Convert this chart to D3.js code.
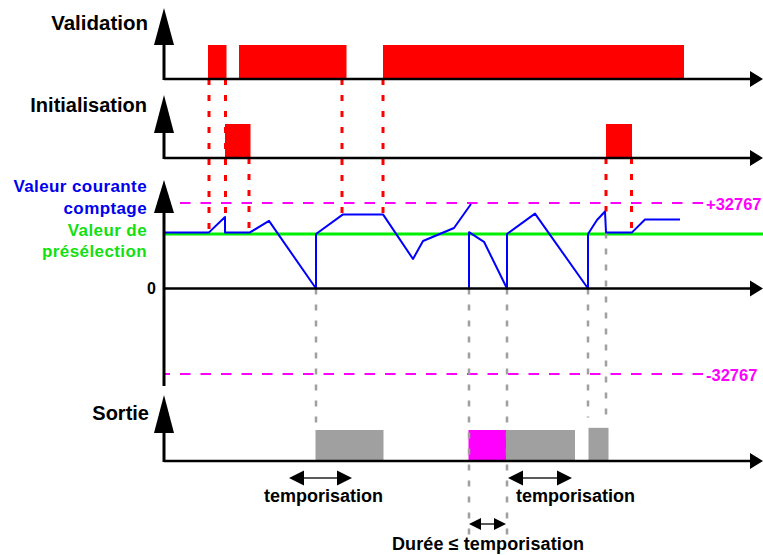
<!DOCTYPE html>
<html>
<head>
<meta charset="utf-8">
<script src="https://cdn.jsdelivr.net/npm/d3@7"></script>
<style>
    body { margin: 0; background: #fff; }
    #chart { width: 763px; height: 555px; }
    text { font-family: "Liberation Sans", Arial, sans-serif; font-weight: bold; }
</style>
</head>
<body>
<div id="chart"></div>
<script>
// time runs 0..600 units along every lane
const validationPulses = [[44, 62.5], [75, 182.5], [219, 520]];
const initPulses = [[61, 86.5], [442, 468]];

// output pulses: "short" = pulse shorter than the timer
const outputStarts = [151.5, 304.5, 342, 424.5];
const outputEnds = [219.5, 342, 411, 444.5];
const outputLevels = [1, 1, 1, 1.07];
const outputKinds = ["normal", "short", "normal", "normal"];

// current counter value, null = break in the trace
const counterTimes = [0, 45, 61, 61, 86, 105, 152, 152, 179, 219, 249, 259, 290, 307, null,
    305, 305, 320, 343, 343, 371, 424, 424, 433, 441, 442, 468, 481, 516];
const counterValues = [21500, 21500, 27400, 21500, 21500, 25900, 0, 20900, 28400, 28400, 11300, 18200, 23200, 32400, null,
    0, 21600, 17900, 0, 20900, 28700, 0, 20900, 26250, 29500, 21500, 21500, 26440, 26440];

const presetValue = 20900;
const counterLimits = [32767, -32767];
const limitLabels = ["+32767", "-32767"];

// annotation spans
const timerSpans = [[125, 188], [344, 408]];
const shortSpans = [[305, 342]];

// dotted guides: time, start [lane, value], end [lane, value]
const redGuides = [
    {t: 45, from: ["validation", 0], to: ["counter", 21500]},
    {t: 61.5, from: ["validation", 0], to: ["counter", 27400]},
    {t: 85, from: ["init", 0], to: ["counter", 21500]},
    {t: 178, from: ["validation", 0], to: ["counter", 28400]},
    {t: 219, from: ["validation", 0], to: ["counter", 28400]},
    {t: 442, from: ["init", 0], to: ["counter", 29500]},
    {t: 467.5, from: ["init", 0], to: ["counter", 21500]}
];
const grayGuides = [
    {t: 152, from: ["counter", 0], to: ["output", 1]},
    {t: 305, from: ["counter", 0], to: ["notes", 0]},
    {t: 343, from: ["counter", 0], to: ["notes", 0]},
    {t: 424, from: ["counter", 0], to: ["output", 1.4]},
    {t: 442, from: ["counter", 21500], to: ["output", 1.4]}
];


class TimingDiagram {
    constructor(parentElement) {
        this.parentElement = parentElement;
        this.initVis();
    }

    initVis() {
        let vis = this;

        vis.width = 763;
        vis.height = 555;
        vis.axisX = 164;

        vis.svg = d3.select("#" + vis.parentElement).append("svg")
            .attr("width", vis.width)
            .attr("height", vis.height);

        // shared time scale
        vis.x = d3.scaleLinear().domain([0, 600]).range([vis.axisX, vis.axisX + 600]);

        // one vertical scale per lane
        vis.y = {
            validation: d3.scaleLinear().domain([0, 1]).range([79, 45]),
            init: d3.scaleLinear().domain([0, 1]).range([158, 124]),
            counter: d3.scaleLinear().domain([-32767, 32767]).range([374, 203]),
            output: d3.scaleLinear().domain([0, 1]).range([461, 430]),
            notes: d3.scaleLinear().domain([0, 1]).range([537, 478])
        };

        vis.wrangleData();
    }

    wrangleData() {
        let vis = this;

        vis.counterData = counterTimes.map((t, i) => ({t: t, v: counterValues[i]}));
        vis.outputData = outputStarts.map((s, i) => ({
            start: s, end: outputEnds[i], level: outputLevels[i], kind: outputKinds[i]
        }));

        vis.updateVis();
    }

    upArrow(g, x, tip, base, half) {
        g.append("path")
            .attr("d", `M${x},${tip}L${x + half},${base}L${x - half},${base}Z`)
            .attr("fill", "#000");
    }

    rightArrow(g, tip, y, len, half) {
        g.append("path")
            .attr("d", `M${tip},${y}L${tip - len},${y - half}L${tip - len},${y + half}Z`)
            .attr("fill", "#000");
    }

    span(g, x0, x1, y, len, half) {
        let vis = this;
        g.append("line")
            .attr("x1", x0 + len - 1).attr("x2", x1 - len + 1)
            .attr("y1", y).attr("y2", y)
            .attr("stroke", "#222").attr("stroke-width", 1.5);
        vis.rightArrow(g, x1, y, len, half);
        g.append("path")
            .attr("d", `M${x0},${y}L${x0 + len},${y - half}L${x0 + len},${y + half}Z`)
            .attr("fill", "#000");
    }

    updateVis() {
        let vis = this;
        let x = vis.x, y = vis.y;

        // lane titles
        let labels = vis.svg.append("g").attr("text-anchor", "end");
        labels.append("text").attr("x", 148).attr("y", 30).attr("font-size", 20.5).text("Validation");
        labels.append("text").attr("x", 147).attr("y", 112).attr("font-size", 20).text("Initialisation");
        labels.append("text").attr("x", 149).attr("y", 420).attr("font-size", 20).text("Sortie");
        labels.selectAll(".blue")
            .data(["Valeur courante", "comptage"])
            .enter().append("text")
            .attr("x", 147).attr("y", (d, i) => 192 + i * 22)
            .attr("font-size", 17).attr("letter-spacing", 0.4)
            .attr("fill", "#0000ee").text(d => d);
        labels.selectAll(".green")
            .data(["Valeur de", "présélection"])
            .enter().append("text")
            .attr("x", 147).attr("y", (d, i) => 236 + i * 21)
            .attr("font-size", 17).attr("letter-spacing", 0.4)
            .attr("fill", "#11e011").text(d => d);
        labels.append("text").attr("x", 156).attr("y", 294).attr("font-size", 16).text("0");

        // pulses
        vis.svg.append("g").selectAll("rect")
            .data(validationPulses)
            .enter().append("rect")
            .attr("x", d => x(d[0]))
            .attr("width", d => x(d[1]) - x(d[0]))
            .attr("y", y.validation(1))
            .attr("height", y.validation(0) - y.validation(1))
            .attr("fill", "#ff0000");

        vis.svg.append("g").selectAll("rect")
            .data(initPulses)
            .enter().append("rect")
            .attr("x", d => x(d[0]))
            .attr("width", d => x(d[1]) - x(d[0]))
            .attr("y", y.init(1))
            .attr("height", y.init(0) - y.init(1))
            .attr("fill", "#ff0000");

        vis.svg.append("g").selectAll("rect")
            .data(vis.outputData)
            .enter().append("rect")
            .attr("x", d => x(d.start))
            .attr("width", d => x(d.end) - x(d.start))
            .attr("y", d => y.output(d.level))
            .attr("height", d => y.output(0) - y.output(d.level))
            .attr("fill", d => d.kind === "short" ? "#ff00ff" : "#a0a0a0");

        // counter limits
        let limits = vis.svg.append("g");
        limits.selectAll("line")
            .data(counterLimits)
            .enter().append("line")
            .attr("x1", (d, i) => i === 0 ? 180 : x(0))
            .attr("x2", x(541))
            .attr("y1", d => y.counter(d))
            .attr("y2", d => y.counter(d))
            .attr("stroke", "#ff00ff")
            .attr("stroke-width", 2)
            .attr("stroke-dasharray", "10.5,10")
            .attr("stroke-dashoffset", (d, i) => i === 0 ? 0 : 4.5);
        limits.selectAll("text")
            .data(counterLimits)
            .enter().append("text")
            .attr("x", x(542))
            .attr("y", d => y.counter(d) + 7)
            .attr("font-size", 16.5)
            .attr("fill", "#ff00ff")
            .text((d, i) => limitLabels[i]);

        // preset
        vis.svg.append("line")
            .attr("x1", x(0)).attr("x2", vis.width)
            .attr("y1", y.counter(presetValue)).attr("y2", y.counter(presetValue))
            .attr("stroke", "#00ee00").attr("stroke-width", 3);

        // guides
        let guide = (sel, color, width) => sel
            .attr("x1", d => x(d.t)).attr("x2", d => x(d.t))
            .attr("y1", d => y[d.from[0]](d.from[1]))
            .attr("y2", d => y[d.to[0]](d.to[1]))
            .attr("stroke", color)
            .attr("stroke-width", width)
            .attr("stroke-dasharray", "6,10");

        vis.svg.append("g").selectAll("line")
            .data(grayGuides)
            .enter().append("line")
            .call(guide, "#a0a0a0", 2.5);
        vis.svg.append("g").selectAll("line")
            .data(redGuides)
            .enter().append("line")
            .call(guide, "#ff0000", 3);

        // current value trace
        let line = d3.line()
            .defined(d => d.v !== null)
            .x(d => x(d.t))
            .y(d => y.counter(d.v));
        vis.svg.append("path")
            .datum(vis.counterData)
            .attr("d", line)
            .attr("fill", "none")
            .attr("stroke", "#0000ff")
            .attr("stroke-width", 2)
            .attr("stroke-linejoin", "round");

        // axes
        let axes = vis.svg.append("g");
        let lanes = [
            {base: y.validation(0), tip: 8, head: 45, bottom: y.validation(0)},
            {base: y.init(0), tip: 95, head: 133, bottom: y.init(0)},
            {base: y.counter(0), tip: 180, head: 213, bottom: 385},
            {base: y.output(0), tip: 395, head: 433, bottom: y.output(0)}
        ];
        lanes.forEach(l => {
            axes.append("line")
                .attr("x1", vis.axisX).attr("x2", vis.axisX)
                .attr("y1", l.head - 2).attr("y2", l.bottom + 1)
                .attr("stroke", "#000").attr("stroke-width", 3);
            vis.upArrow(axes, vis.axisX, l.tip, l.head, 10);
            axes.append("line")
                .attr("x1", vis.axisX).attr("x2", vis.width - 12)
                .attr("y1", l.base).attr("y2", l.base)
                .attr("stroke", "#000").attr("stroke-width", 2.5);
            vis.rightArrow(axes, vis.width, l.base, 13, 8);
        });

        // annotations
        let notes = vis.svg.append("g").attr("font-size", 18);
        timerSpans.forEach(s => vis.span(notes, x(s[0]), x(s[1]), y.notes(1), 15, 7.5));
        shortSpans.forEach(s => vis.span(notes, x(s[0]), x(s[1]), 524, 12, 6));
        notes.append("text").attr("x", 264).attr("y", 502).attr("textLength", 119).text("temporisation");
        notes.append("text").attr("x", 516).attr("y", 502).attr("textLength", 119).text("temporisation");
        notes.append("text").attr("x", 392).attr("y", 550).attr("textLength", 192).text("Durée \u2264 temporisation");
    }
}

new TimingDiagram("chart");
</script>
</body>
</html>
